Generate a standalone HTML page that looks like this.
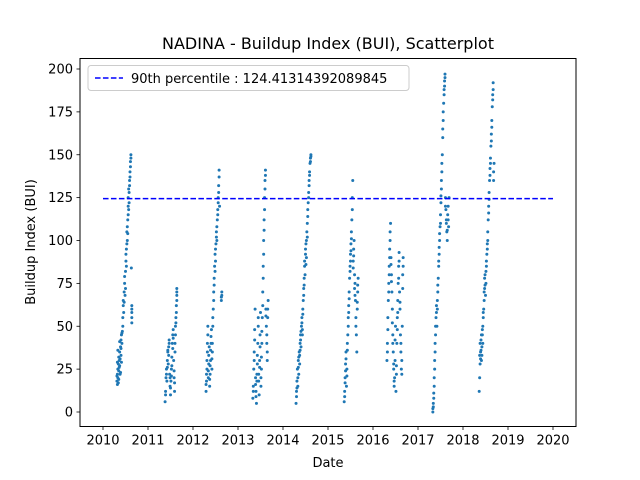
<!DOCTYPE html>
<html><head><meta charset="utf-8"><style>
html,body{margin:0;padding:0;background:#fff;}
svg{display:block;font-family:"DejaVu Sans","Liberation Sans",sans-serif;}
</style></head><body>
<svg id="chart" width="640" height="480" viewBox="0 0 640 480">
<rect width="640" height="480" fill="#fff"/>
<text x="328" y="49" font-size="16" text-anchor="middle">NADINA - Buildup Index (BUI), Scatterplot</text>
<g id="xticks"></g>
<g id="yticks"></g>
<g id="marks"></g>
<line id="p90" stroke="#0000ff" stroke-width="1.5" stroke-dasharray="5.55,2.4"/>
<rect x="80" y="58.5" width="496" height="368" fill="none" stroke="#000" stroke-width="1"/>
<text x="328" y="467" font-size="13" text-anchor="middle">Date</text>
<text transform="translate(35,242) rotate(-90)" font-size="13" text-anchor="middle">Buildup Index (BUI)</text>
<g>
<rect x="88" y="65.5" width="321" height="25" rx="3" fill="#fff" fill-opacity="0.8" stroke="#ccc"/>
<line x1="95" y1="78" x2="123" y2="78" stroke="#0000ff" stroke-width="1.5" stroke-dasharray="5.55,2.4"/>
<text x="131" y="83" font-size="13">90th percentile : 124.41314392089845</text>
</g>
</svg>
<script>
const xTicks=[2010,2011,2012,2013,2014,2015,2016,2017,2018,2019,2020];
const yTicks=[0,25,50,75,100,125,150,175,200];
const percentile90=124.41314392089845;
const s2010=[[2010.31,18],[2010.32,22],[2010.32,16],[2010.33,25],[2010.33,20],[2010.34,28],[2010.35,24],[2010.35,19],[2010.36,30],[2010.37,27],[2010.37,35],[2010.38,22],[2010.39,38],[2010.40,33],[2010.40,42],[2010.41,45],[2010.42,40],[2010.43,47],[2010.44,55],[2010.45,62],[2010.46,58],[2010.47,70],[2010.48,75],[2010.49,68],[2010.50,82],[2010.51,88],[2010.52,95],[2010.53,105],[2010.54,100],[2010.55,112],[2010.56,120],[2010.56,125],[2010.57,118],[2010.58,128],[2010.59,135],[2010.60,140],[2010.61,146],[2010.62,150],[2010.64,55],[2010.64,60],[2010.64,52],[2010.63,84]];
const s2010b=[[2010.31,21],[2010.32,29],[2010.33,36],[2010.34,17],[2010.35,32],[2010.36,26],[2010.37,41],[2010.38,31],[2010.39,23],[2010.40,37],[2010.41,29],[2010.42,46],[2010.44,50],[2010.45,65],[2010.47,64],[2010.48,79],[2010.50,72],[2010.51,92],[2010.52,85],[2010.53,98],[2010.54,108],[2010.55,104],[2010.56,115],[2010.57,130],[2010.58,122],[2010.59,132],[2010.60,137],[2010.61,143],[2010.62,148],[2010.64,58],[2010.64,62]];
const s2011=[[2011.38,6],[2011.39,12],[2011.40,20],[2011.41,25],[2011.42,18],[2011.43,30],[2011.44,35],[2011.45,28],[2011.46,38],[2011.47,40],[2011.48,22],[2011.49,15],[2011.50,10],[2011.51,18],[2011.52,25],[2011.53,32],[2011.54,40],[2011.55,45],[2011.56,48],[2011.57,30],[2011.58,20],[2011.59,12],[2011.60,40],[2011.61,50],[2011.62,55],[2011.63,62],[2011.64,68],[2011.64,72]];
const s2011b=[[2011.39,10],[2011.41,22],[2011.43,26],[2011.44,36],[2011.46,33],[2011.47,42],[2011.49,20],[2011.50,14],[2011.52,21],[2011.53,27],[2011.55,37],[2011.56,43],[2011.58,24],[2011.59,17],[2011.60,35],[2011.61,45],[2011.62,52],[2011.63,58],[2011.64,65],[2011.64,70]];
const s2012=[[2012.29,12],[2012.30,18],[2012.31,25],[2012.32,35],[2012.33,45],[2012.34,20],[2012.35,28],[2012.36,38],[2012.37,15],[2012.38,22],[2012.39,30],[2012.40,40],[2012.41,48],[2012.42,25],[2012.43,35],[2012.44,55],[2012.45,60],[2012.46,70],[2012.47,78],[2012.48,85],[2012.49,92],[2012.50,88],[2012.51,98],[2012.52,105],[2012.53,100],[2012.54,112],[2012.55,118],[2012.56,125],[2012.57,132],[2012.58,141],[2012.59,120],[2012.63,65],[2012.64,70],[2012.64,68]];
const s2012b=[[2012.29,16],[2012.30,22],[2012.31,30],[2012.32,40],[2012.33,50],[2012.34,24],[2012.35,33],[2012.37,19],[2012.38,27],[2012.39,36],[2012.40,44],[2012.42,31],[2012.43,40],[2012.44,50],[2012.46,65],[2012.47,74],[2012.49,82],[2012.50,95],[2012.52,102],[2012.53,108],[2012.55,115],[2012.56,122],[2012.57,128],[2012.58,137],[2012.63,67]];
const s2013=[[2013.33,8],[2013.34,15],[2013.35,25],[2013.36,35],[2013.37,48],[2013.38,60],[2013.39,20],[2013.40,12],[2013.41,5],[2013.42,18],[2013.43,28],[2013.44,40],[2013.45,55],[2013.46,22],[2013.47,10],[2013.48,30],[2013.49,45],[2013.50,58],[2013.51,15],[2013.52,25],[2013.53,40],[2013.54,55],[2013.55,70],[2013.56,85],[2013.57,100],[2013.58,112],[2013.59,125],[2013.60,135],[2013.61,141],[2013.62,60],[2013.63,50],[2013.64,40],[2013.65,30],[2013.66,55],[2013.67,65]];
const s2013b=[[2013.34,12],[2013.36,30],[2013.37,42],[2013.39,16],[2013.40,9],[2013.42,22],[2013.43,33],[2013.45,50],[2013.46,18],[2013.48,26],[2013.49,38],[2013.51,20],[2013.52,32],[2013.53,47],[2013.55,62],[2013.56,78],[2013.57,92],[2013.58,106],[2013.59,118],[2013.60,130],[2013.61,138],[2013.62,56],[2013.64,45],[2013.65,35],[2013.66,60]];
const s2014=[[2014.29,5],[2014.30,12],[2014.31,18],[2014.32,25],[2014.33,15],[2014.34,30],[2014.35,22],[2014.36,35],[2014.37,28],[2014.38,40],[2014.39,45],[2014.40,38],[2014.41,50],[2014.42,55],[2014.43,48],[2014.44,60],[2014.45,65],[2014.46,72],[2014.47,78],[2014.48,85],[2014.49,80],[2014.50,92],[2014.51,98],[2014.52,90],[2014.53,105],[2014.54,110],[2014.55,118],[2014.56,122],[2014.57,128],[2014.58,135],[2014.59,140],[2014.60,145],[2014.61,148],[2014.62,150]];
const s2014b=[[2014.30,9],[2014.31,14],[2014.33,20],[2014.34,26],[2014.35,32],[2014.37,33],[2014.38,36],[2014.39,42],[2014.40,47],[2014.42,52],[2014.43,45],[2014.44,57],[2014.46,68],[2014.47,74],[2014.48,88],[2014.50,95],[2014.51,86],[2014.52,100],[2014.54,102],[2014.55,114],[2014.57,125],[2014.58,132],[2014.59,138],[2014.61,146],[2014.62,149]];
const s2015=[[2015.36,6],[2015.37,12],[2015.38,20],[2015.39,28],[2015.40,35],[2015.41,15],[2015.42,25],[2015.43,40],[2015.44,45],[2015.45,55],[2015.46,62],[2015.47,70],[2015.48,78],[2015.49,85],[2015.50,92],[2015.51,98],[2015.52,105],[2015.53,112],[2015.54,125],[2015.55,135],[2015.56,88],[2015.57,95],[2015.58,100],[2015.59,80],[2015.60,75],[2015.61,65],[2015.62,55],[2015.63,45],[2015.64,35],[2015.65,60],[2015.66,70],[2015.67,78]];
const s2015b=[[2015.37,9],[2015.38,17],[2015.39,24],[2015.40,31],[2015.42,21],[2015.43,36],[2015.45,50],[2015.46,58],[2015.47,66],[2015.49,82],[2015.50,88],[2015.51,94],[2015.52,101],[2015.54,118],[2015.56,84],[2015.57,91],[2015.59,72],[2015.60,68],[2015.62,50],[2015.65,64],[2015.66,74]];
const s2016=[[2016.31,30],[2016.32,40],[2016.33,55],[2016.34,65],[2016.35,75],[2016.36,85],[2016.37,95],[2016.38,105],[2016.39,110],[2016.40,90],[2016.41,80],[2016.42,70],[2016.43,60],[2016.44,45],[2016.45,35],[2016.46,25],[2016.47,15],[2016.48,20],[2016.49,30],[2016.50,50],[2016.51,12],[2016.52,22],[2016.53,40],[2016.54,55],[2016.55,65],[2016.56,75],[2016.57,85],[2016.58,93],[2016.59,70],[2016.60,60],[2016.61,45],[2016.62,35],[2016.63,25],[2016.64,30],[2016.65,50],[2016.66,80],[2016.67,90]];
const s2016b=[[2016.32,35],[2016.33,48],[2016.35,70],[2016.36,80],[2016.37,90],[2016.38,100],[2016.40,86],[2016.41,76],[2016.43,52],[2016.44,40],[2016.46,28],[2016.47,18],[2016.49,42],[2016.52,27],[2016.54,48],[2016.55,58],[2016.57,78],[2016.58,88],[2016.60,64],[2016.62,40],[2016.64,22],[2016.66,72],[2016.67,85]];
const s2017=[[2017.33,0],[2017.34,3],[2017.35,8],[2017.36,15],[2017.37,25],[2017.38,35],[2017.39,45],[2017.40,55],[2017.41,62],[2017.42,50],[2017.43,60],[2017.44,70],[2017.45,78],[2017.46,85],[2017.47,92],[2017.48,100],[2017.49,108],[2017.50,115],[2017.51,122],[2017.52,130],[2017.53,140],[2017.54,150],[2017.55,160],[2017.56,170],[2017.57,180],[2017.58,188],[2017.59,193],[2017.60,197],[2017.61,125],[2017.62,118],[2017.63,110],[2017.64,105],[2017.65,100],[2017.66,115],[2017.67,120],[2017.68,108],[2017.69,125]];
const s2017b=[[2017.33,2],[2017.34,5],[2017.35,11],[2017.36,20],[2017.37,30],[2017.38,40],[2017.39,50],[2017.41,58],[2017.43,65],[2017.44,74],[2017.46,88],[2017.47,96],[2017.48,104],[2017.50,110],[2017.51,126],[2017.52,135],[2017.53,145],[2017.55,165],[2017.56,175],[2017.58,185],[2017.59,190],[2017.60,195],[2017.61,120],[2017.63,112],[2017.65,106],[2017.67,112]];
const s2018=[[2018.36,12],[2018.37,20],[2018.38,28],[2018.39,35],[2018.40,42],[2018.41,30],[2018.42,38],[2018.43,45],[2018.44,50],[2018.45,55],[2018.46,60],[2018.47,65],[2018.48,72],[2018.49,80],[2018.50,68],[2018.51,75],[2018.52,85],[2018.53,92],[2018.54,98],[2018.55,105],[2018.56,112],[2018.57,120],[2018.58,128],[2018.59,135],[2018.60,142],[2018.61,148],[2018.62,155],[2018.63,162],[2018.64,170],[2018.65,178],[2018.66,185],[2018.67,192],[2018.68,140],[2018.69,145]];
const s2018b=[[2018.37,33],[2018.38,40],[2018.39,31],[2018.40,36],[2018.41,45],[2018.42,33],[2018.43,48],[2018.44,40],[2018.45,58],[2018.47,70],[2018.48,78],[2018.49,74],[2018.51,82],[2018.52,88],[2018.54,95],[2018.55,100],[2018.57,116],[2018.58,124],[2018.60,138],[2018.61,145],[2018.63,158],[2018.64,166],[2018.66,182],[2018.67,188],[2018.68,135]];
const seasons=[s2010,s2010b,s2011,s2011b,s2012,s2012b,s2013,s2013b,s2014,s2014b,s2015,s2015b,s2016,s2016b,s2017,s2017b,s2018,s2018b];

const NS='http://www.w3.org/2000/svg';
const X0=80,X1=576,Y0=58.5,Y1=426.5;
function xs(t){return 103+(t-2010)*45;}
function ys(v){return 412-v*1.715;}
function mk(tag,attrs,parent){const e=document.createElementNS(NS,tag);for(const k in attrs)e.setAttribute(k,attrs[k]);parent.appendChild(e);return e;}

const xg=document.getElementById('xticks');
xTicks.forEach(t=>{
  const l=mk('line',{x1:xs(t),x2:xs(t),y1:Y1,y2:Y1+3.5,stroke:'#000','stroke-width':0.8},xg);
  
  
  const tx=mk('text',{x:xs(t),y:Y1+18,'font-size':13,'text-anchor':'middle'},xg);
  tx.textContent=t;
  
  
});
const yg=document.getElementById('yticks');
yTicks.forEach(v=>{
  const l=mk('line',{x1:X0-3.5,x2:X0,y1:ys(v),y2:ys(v),stroke:'#000','stroke-width':0.8},yg);
  
  
  const tx=mk('text',{x:X0-7,y:ys(v)+4.5,'font-size':13,'text-anchor':'end'},yg);
  tx.textContent=v;
  
  
});
const mg=document.getElementById('marks');
seasons.forEach(s=>s.forEach(p=>{
  const c=mk('circle',{cx:xs(p[0]),cy:ys(p[1]),r:1.5,fill:'#1f77b4'},mg);
  
  
}));
const pl=document.getElementById('p90');
pl.setAttribute('x1',xs(2010));pl.setAttribute('x2',xs(2020));
pl.setAttribute('y1',ys(percentile90));pl.setAttribute('y2',ys(percentile90));
</script>
</body></html>
